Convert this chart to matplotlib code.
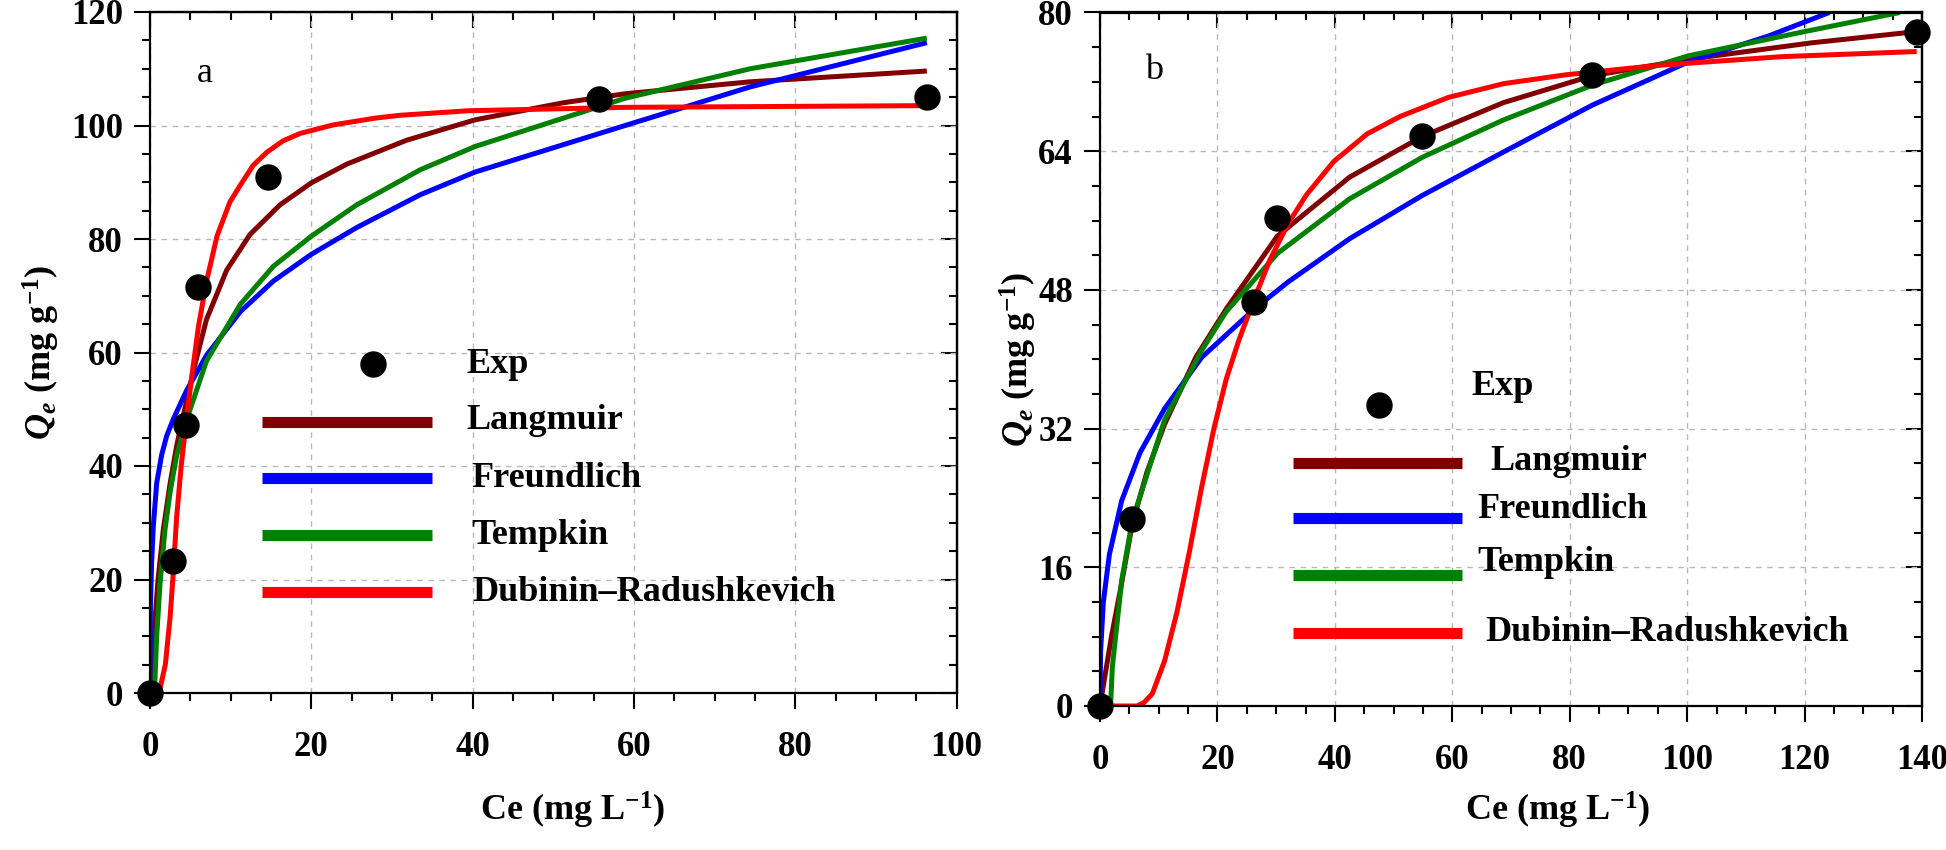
import matplotlib
matplotlib.use('Agg')
import matplotlib.pyplot as plt
from matplotlib.ticker import MultipleLocator

plt.rcParams['font.family'] = ['Liberation Serif', 'DejaVu Serif']
plt.rcParams['font.weight'] = 'bold'
plt.rcParams['mathtext.fontset'] = 'custom'
plt.rcParams['mathtext.rm'] = 'Liberation Serif:bold'
plt.rcParams['mathtext.bf'] = 'Liberation Serif:bold'
plt.rcParams['mathtext.it'] = 'Liberation Serif:italic:bold'
plt.rcParams['mathtext.bfit'] = 'Liberation Serif:italic:bold'

# ---------------- Panel a ----------------
a_exp_ce = [0, 2.9, 4.5, 5.9, 14.6, 55.6, 96.3]
a_exp_qe = [0, 23.3, 47.3, 71.5, 91.0, 104.6, 105.0]

a_lang_x = [0, 0.4, 1.0, 1.65, 2.5, 3.3, 4.3, 5.5, 7.0, 9.5, 12.4, 16.1, 20, 24.4, 31.8, 40.3, 51.2, 58.9, 74.4, 96.3]
a_lang_y = [0, 8.8, 20, 28.8, 37, 43.5, 50, 57.5, 65.8, 74.5, 80.8, 86.0, 89.9, 93.2, 97.4, 101.0, 104.0, 105.6, 107.7, 109.6]

a_freu_x = [0, 0.05, 0.2, 0.41, 0.83, 1.45, 2.07, 2.9, 4.5, 7, 11.2, 15.3, 20, 25.6, 33.5, 40.3, 58.9, 74.4, 96.3]
a_freu_y = [0, 15, 23, 29.4, 37, 42.0, 45.3, 48.3, 53.2, 59.5, 67.2, 72.6, 77.3, 82, 87.8, 91.8, 100.0, 106.8, 114.6]

a_temp_x = [0.55, 0.83, 1.24, 1.86, 2.5, 3.3, 4.5, 7.0, 11.2, 15.3, 20, 25.6, 33.5, 40.3, 58.9, 74.4, 96.3]
a_temp_y = [0, 10, 19.2, 28.8, 35.5, 41.8, 48.0, 58.5, 68.5, 75.2, 80.5, 86.0, 92.2, 96.3, 104.8, 110, 115.4]

a_dr_x = [0, 1.2, 1.9, 2.5, 2.9, 3.3, 3.9, 4.5, 5.2, 6.0, 7.0, 8.3, 9.9, 11.2, 12.8, 14.5, 16.5, 18.6, 22.7, 27.9, 31, 39.5, 58.9, 96.3]
a_dr_y = [0, 0.5, 5, 13.5, 21.5, 31, 40.5, 48, 56, 64.5, 72.5, 80.5, 86.5, 89.5, 93.0, 95.3, 97.3, 98.6, 100.1, 101.3, 101.8, 102.6, 103.2, 103.5]

# ---------------- Panel b ----------------
b_exp_ce = [0, 5.5, 26.3, 30.2, 54.9, 83.8, 139.1]
b_exp_qe = [0, 21.6, 46.6, 56.3, 65.7, 72.8, 77.8]

b_lang_x = [0, 0.85, 2.0, 3.5, 5.5, 8, 11, 16.3, 21.5, 30.2, 42.5, 54.9, 68.7, 83.8, 100.2, 121.2, 139.1]
b_lang_y = [0, 3.5, 8.2, 13.5, 21.0, 27.0, 32.5, 40.2, 45.8, 54.2, 61.0, 65.7, 69.6, 72.7, 74.6, 76.5, 77.8]

b_freu_x = [0, 0.1, 0.57, 1.6, 3.7, 6.8, 11, 17.3, 26.3, 32, 42.5, 54.9, 68.7, 83.8, 100.2, 113.9, 124.2]
b_freu_y = [0, 6.3, 12.0, 17.5, 23.7, 29.2, 34.3, 40.2, 45.8, 48.9, 53.9, 58.9, 63.9, 69.3, 74.3, 77.3, 80]

b_temp_x = [1.8, 2.1, 3.7, 5.5, 11, 17.3, 21.5, 30.2, 42.5, 54.9, 68.7, 83.8, 100.2, 120, 136.2]
b_temp_y = [0, 4.5, 14.5, 21.4, 33, 41, 45.5, 52.2, 58.5, 63.3, 67.6, 71.6, 75.0, 77.8, 80]

b_dr_x = [0, 6.3, 7.5, 8.9, 11.0, 13.1, 15.2, 17.3, 19.4, 21.5, 23.6, 26.3, 28.9, 32.0, 35.2, 39.8, 45.5, 51.1, 59.3, 68.8, 79.2, 95.0, 116.0, 139.1]
b_dr_y = [0, 0, 0.4, 1.4, 5.2, 10.8, 17.7, 25.2, 32.0, 37.7, 42.1, 47.0, 51.4, 55.6, 59.0, 62.8, 66.0, 68.0, 70.2, 71.8, 72.8, 73.9, 74.9, 75.5]

legend_labels = ['Exp', 'Langmuir', 'Freundlich', 'Tempkin', 'Dubinin\u2013Radushkevich']
model_colors = ['#800000', '#0000FF', '#008000', '#FF0000']

fig = plt.figure(figsize=(19.46, 8.5), dpi=100)
axa = fig.add_axes([150/1946, 1-693/850, 806.7/1946, 681/850])
axb = fig.add_axes([1100/1946, 1-706/850, 822/1946, 693.5/850])

TICK_FS = 25
LEG_FS = 26
LW = 3.6
MS = 18


def style_axis(ax, xmax, xmaj, xmin, ymax, ymaj, ymin):
    ax.set_xlim(0, xmax)
    ax.set_ylim(0, ymax)
    ax.xaxis.set_major_locator(MultipleLocator(xmaj))
    ax.xaxis.set_minor_locator(MultipleLocator(xmin))
    ax.yaxis.set_major_locator(MultipleLocator(ymaj))
    ax.yaxis.set_minor_locator(MultipleLocator(ymin))
    for s in ax.spines.values():
        s.set_linewidth(1.6)
    ax.tick_params(which='major', direction='out', length=11.5, width=1.5,
                   labelsize=TICK_FS)
    ax.tick_params(axis='x', which='major', pad=16)
    ax.tick_params(axis='y', which='major', pad=8)
    ax.tick_params(which='minor', direction='out', length=6, width=1.5)
    for lab in ax.get_xticklabels() + ax.get_yticklabels():
        lab.set_fontweight('bold')
    ax.grid(True, which='major', color='#b8b8b8', linestyle=(0, (4, 4)), linewidth=1.0)
    ax.set_axisbelow(True)
    # inward ticks on top and right
    top = ax.secondary_xaxis('top')
    top.xaxis.set_major_locator(MultipleLocator(xmaj))
    top.xaxis.set_minor_locator(MultipleLocator(xmin))
    top.tick_params(which='major', direction='in', length=11.5, width=1.5, labeltop=False)
    top.tick_params(which='minor', direction='in', length=5.5, width=1.5)
    top.spines['top'].set_linewidth(1.6)
    right = ax.secondary_yaxis('right')
    right.yaxis.set_major_locator(MultipleLocator(ymaj))
    right.yaxis.set_minor_locator(MultipleLocator(ymin))
    right.tick_params(which='major', direction='in', length=11.5, width=1.5, labelright=False)
    right.tick_params(which='minor', direction='in', length=5.5, width=1.5)
    right.spines['right'].set_linewidth(1.6)


def draw_panel(ax, exp_x, exp_y, curves, letter, letter_pos, leg):
    for (cx, cy), col in zip(curves, model_colors):
        ax.plot(cx, cy, color=col, lw=LW, solid_capstyle='butt',
                solid_joinstyle='round', zorder=2)
    ax.plot(exp_x, exp_y, 'o', color='black', markersize=MS, zorder=3, clip_on=False)
    ax.text(letter_pos[0], letter_pos[1], letter, transform=ax.transAxes,
            fontsize=26, fontweight='normal', ha='center', va='center')
    # custom legend
    ax.plot([leg['exp_marker'][0]], [leg['exp_marker'][1]], 'o', color='black',
            markersize=MS, transform=ax.transAxes, clip_on=False)
    ax.text(leg['exp_text'][0], leg['exp_text'][1], legend_labels[0],
            transform=ax.transAxes, fontsize=LEG_FS, fontweight='bold',
            ha='left', va='center')
    for i, col in enumerate(model_colors):
        ly = leg['line_y'][i]
        ax.plot(leg['line_x'], [ly, ly], color=col, lw=8, solid_capstyle='butt',
                transform=ax.transAxes, clip_on=False)
        tx, ty = leg['text'][i]
        ax.text(tx, ty, legend_labels[i + 1], transform=ax.transAxes,
                fontsize=LEG_FS, fontweight='bold', ha='left', va='center')


style_axis(axa, 100, 20, 5, 120, 20, 5)
style_axis(axb, 140, 20, 5, 80, 16, 4)

draw_panel(axa, a_exp_ce, a_exp_qe,
           [(a_lang_x, a_lang_y), (a_freu_x, a_freu_y), (a_temp_x, a_temp_y), (a_dr_x, a_dr_y)],
           'a', (0.068, 0.910),
           dict(exp_marker=(0.2765, 0.4831), exp_text=(0.3917, 0.483),
                line_x=[0.1388, 0.3496], line_y=[0.398, 0.3157, 0.2313, 0.148],
                text=[(0.3917, 0.400), (0.399, 0.3157), (0.399, 0.2313), (0.399, 0.148)]))

draw_panel(axb, b_exp_ce, b_exp_qe,
           [(b_lang_x, b_lang_y), (b_freu_x, b_freu_y), (b_temp_x, b_temp_y), (b_dr_x, b_dr_y)],
           'b', (0.066, 0.917),
           dict(exp_marker=(0.3390, 0.4335), exp_text=(0.4523, 0.4611),
                line_x=[0.2348, 0.4402], line_y=[0.3498, 0.2706, 0.1884, 0.1053],
                text=[(0.4747, 0.3521), (0.4596, 0.2832), (0.4596, 0.2074), (0.4686, 0.1053)]))

xlab = 'Ce (mg L$^{-1}$)'
ylab = r'$\mathbfit{Q}_{\mathbfit{e}}$ (mg g$^{-1}$)'
for ax, yc in [(axa, -0.109), (axb, -0.0745)]:
    ax.set_xlabel(xlab, fontsize=26, fontweight='bold')
    ax.set_ylabel(ylab, fontsize=26, fontweight='bold')
    ax.yaxis.set_label_coords(yc, 0.5)
axa.xaxis.set_label_coords(0.524, (693 - 790) / 681)
axb.xaxis.set_label_coords(0.557, (706 - 790) / 693.5)

fig.savefig('out.png', dpi=100)
